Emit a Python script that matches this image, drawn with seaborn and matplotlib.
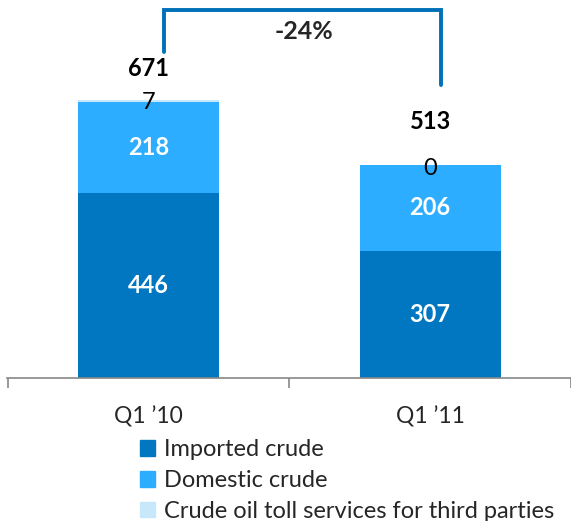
import matplotlib
matplotlib.use("Agg")
import matplotlib.pyplot as plt
import matplotlib.patches as mpatches
import seaborn as sns
import pandas as pd
import numpy as np

categories = ["Q1 \u201910", "Q1 \u201911"]
imported = [446, 307]
domestic = [218, 206]
toll = [7, 0]
totals = [671, 513]
change_label = "-24%"
series_names = ["Imported crude", "Domestic crude", "Crude oil toll services for third parties"]

c_imp = "#0077C0"
c_dom = "#2DADFF"
c_toll = "#C7E7FB"

sns.set_theme(style="white")
plt.rcParams["font.family"] = ["Lato", "DejaVu Sans"]

fig = plt.figure(figsize=(5.71, 5.21), dpi=100)
ax = fig.add_axes([7 / 571, (521 - 378) / 521, 564 / 571, 378 / 521])

imp = np.array(imported)
dom = np.array(domestic)
tol = np.array(toll)
df = pd.DataFrame({
    "cat": categories,
    "top": imp + dom + tol,
    "mid": imp + dom,
    "low": imp,
})
for col, c in [("top", c_toll), ("mid", c_dom), ("low", c_imp)]:
    sns.barplot(data=df, x="cat", y=col, color=c, width=0.5, ax=ax, saturation=1,
                linewidth=0, edgecolor="none")

ax.set_xlim(-0.502, 1.49)
ax.set_ylim(0, 911)
ax.set_xlabel("")
ax.set_ylabel("")
ax.set_yticks([])
for s in ["top", "right", "left"]:
    ax.spines[s].set_visible(False)
ax.spines["bottom"].set_color("#888888")
ax.spines["bottom"].set_linewidth(1.2)
ax.set_xticks([0, 1])
ax.set_xticklabels(categories, fontsize=16.5)
ax.tick_params(axis="x", which="major", length=0, pad=20, bottom=True)
ax.set_xticks([-0.5, 0.5, 1.5], minor=True)
ax.tick_params(axis="x", which="minor", length=7, width=1.2, color="#888888",
               direction="out", bottom=True)

fs = 17
for i in range(2):
    ax.text(i, imp[i] / 2, str(imp[i]), ha="center", va="center", color="white",
            fontsize=fs, fontweight="bold")
    ax.text(i, imp[i] + dom[i] / 2, str(dom[i]), ha="center", va="center", color="white",
            fontsize=fs, fontweight="bold")

ax.text(0, 665, str(toll[0]), ha="center", va="center", color="black", fontsize=fs)
ax.text(1, 506, str(toll[1]), ha="center", va="center", color="black", fontsize=fs)
ax.text(0, 747, str(totals[0]), ha="center", va="center", color="black", fontsize=fs, fontweight="bold")
ax.text(1, 617, str(totals[1]), ha="center", va="center", color="black", fontsize=fs, fontweight="bold")

bx = [0.057, 0.057, 1.039, 1.039]
by = [786, 887, 887, 706]
ax.plot(bx, by, color="#0070B8", lw=2.8, solid_joinstyle="miter", clip_on=False)
ax.text(0.551, 834, change_label, ha="center", va="center", fontsize=18, fontweight="bold")

handles = [mpatches.Patch(color=c, label=n) for c, n in zip([c_imp, c_dom, c_toll], series_names)]
fig.legend(handles=handles, loc="upper left", bbox_to_anchor=(140 / 571, 1 - 439 / 521),
           frameon=False, fontsize=17, handlelength=0.65, handleheight=0.65,
           handletextpad=0.35, labelspacing=0.42, borderpad=0, borderaxespad=0)

fig.savefig("out.png", dpi=100)
